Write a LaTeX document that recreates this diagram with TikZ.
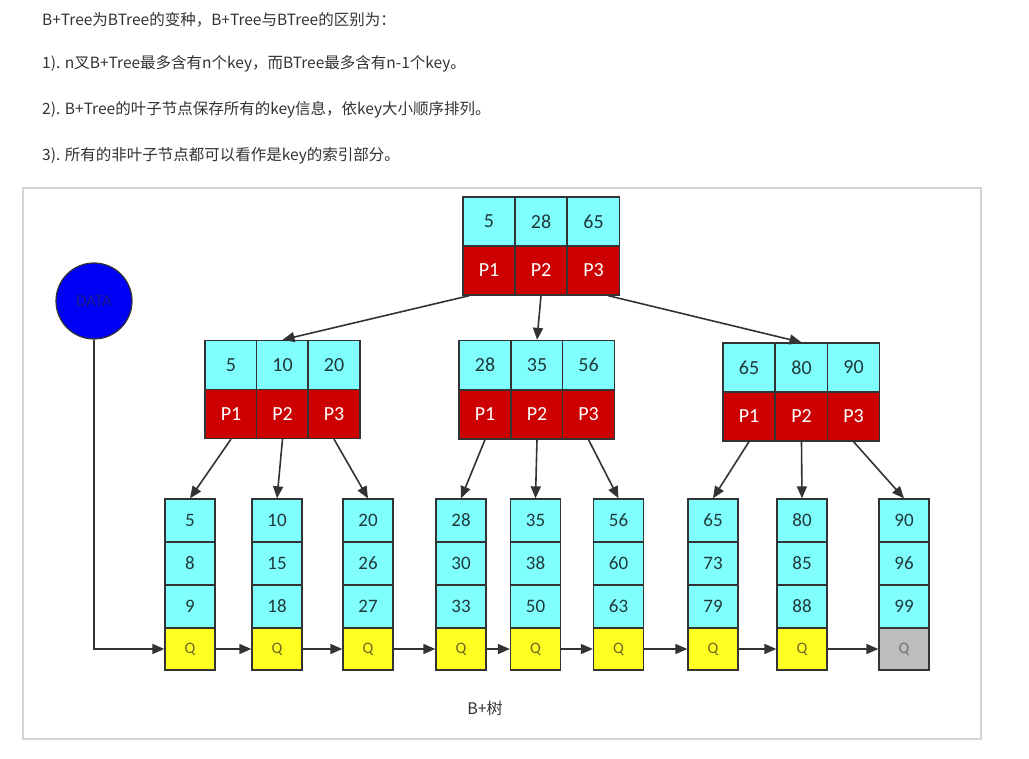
\documentclass[tikz,border=0pt]{standalone}
\usepackage{fontspec}
\usetikzlibrary{arrows.meta,calc}
\newfontfamily\carlito{Carlito}
\newfontfamily\cjk{Noto Sans CJK SC}
\definecolor{keycyan}{HTML}{80FFFF}
\definecolor{ptrred}{HTML}{CC0000}
\definecolor{qyellow}{HTML}{FFFF22}
\definecolor{qgray}{HTML}{BDBDBD}
\definecolor{edge}{HTML}{333333}
\definecolor{numtxt}{HTML}{1F3A3A}
\definecolor{bodytxt}{HTML}{333333}
\definecolor{framegray}{HTML}{D4D4D4}
\definecolor{datablue}{HTML}{0000F5}
\definecolor{datatxt}{HTML}{1A1A8A}
\tikzset{
  cellbase/.style={draw=edge, line width=1.3pt, inner sep=0pt, anchor=center},
  keycell/.style={cellbase, fill=keycyan, minimum width=52pt, minimum height=49pt,
    text=numtxt, font=\carlito\fontsize{20}{20}\selectfont},
  ptrcell/.style={cellbase, fill=ptrred, minimum width=52pt, minimum height=49pt,
    text=white, font=\carlito\fontsize{20}{20}\selectfont},
  leafcell/.style={cellbase, fill=keycyan, minimum width=50pt, minimum height=43pt,
    text=numtxt, font=\carlito\fontsize{19}{19}\selectfont},
  qcell/.style={cellbase, minimum width=50pt, minimum height=42pt,
    font=\carlito\fontsize{16}{16}\selectfont},
  arr/.style={draw=edge, line width=1.6pt, -{Triangle[length=12pt,width=10pt]}},
  bodyline/.style={anchor=west, inner sep=0pt, text=bodytxt, font=\cjk\fontsize{15.5}{15.5}\selectfont},
}
\begin{document}
\begin{tikzpicture}[x=1pt,y=-1pt]
\useasboundingbox (0,0) rectangle (1029,759);
\fill[white] (0,0) rectangle (1029,759);

% top text
\node[bodyline] (t1) at (42,20) {B+Tree为BTree的变种，B+Tree与BTree的区别为：};
\node[bodyline] (t2) at (42,64) {1). n叉B+Tree最多含有n个key，而BTree最多含有n-1个key。};
\node[bodyline] (t3) at (42,110) {2). B+Tree的叶子节点保存所有的key信息，依key大小顺序排列。};
\node[bodyline] (t4) at (42,156) {3). 所有的非叶子节点都可以看作是key的索引部分。};

% frame
\draw[framegray, line width=1.5pt] (23,188) rectangle (981,739);

% root
\node[keycell] (tk1) at (489,221.5) {5};
\node[keycell] (tk2) at (541,221.5) {28};
\node[keycell] (tk3) at (593.5,221.5) {65};
\node[ptrcell] (tp1) at (489,270.5) {P1};
\node[ptrcell] (tp2) at (541,270.5) {P2};
\node[ptrcell] (tp3) at (593.5,270.5) {P3};

% left internal
\node[keycell] (lk1) at (231,365) {5};
\node[keycell] (lk2) at (282.5,365) {10};
\node[keycell] (lk3) at (334,365) {20};
\node[ptrcell] (lp1) at (231,414) {P1};
\node[ptrcell] (lp2) at (282.5,414) {P2};
\node[ptrcell] (lp3) at (334,414) {P3};

% middle internal
\node[keycell] (mk1) at (485,365) {28};
\node[keycell] (mk2) at (537,365) {35};
\node[keycell] (mk3) at (588.5,365) {56};
\node[ptrcell] (mp1) at (485,414.5) {P1};
\node[ptrcell] (mp2) at (537,414.5) {P2};
\node[ptrcell] (mp3) at (588.5,414.5) {P3};

% right internal
\node[keycell] (rk1) at (749,367.5) {65};
\node[keycell] (rk2) at (801.5,367.5) {80};
\node[keycell] (rk3) at (853.5,367.5) {90};
\node[ptrcell] (rp1) at (749,416.5) {P1};
\node[ptrcell] (rp2) at (801.5,416.5) {P2};
\node[ptrcell] (rp3) at (853.5,416.5) {P3};

% leaves
\foreach \x/\a/\b/\c/\qc/\qt [count=\i] in {
  190/5/8/9/qyellow/olive!70!black,
  277/10/15/18/qyellow/olive!70!black,
  368/20/26/27/qyellow/olive!70!black,
  461/28/30/33/qyellow/olive!70!black,
  535.5/35/38/50/qyellow/olive!70!black,
  618.5/56/60/63/qyellow/olive!70!black,
  713/65/73/79/qyellow/olive!70!black,
  802/80/85/88/qyellow/olive!70!black,
  904/90/96/99/qgray/black!55}{
  \node[leafcell] (L\i a) at (\x,520.5) {\a};
  \node[leafcell] (L\i b) at (\x,563.5) {\b};
  \node[leafcell] (L\i c) at (\x,606.5) {\c};
  \node[qcell, fill=\qc, text=\qt] (Q\i) at (\x,649) {Q};
}

% DATA
\node[circle, draw=edge, line width=1.2pt, fill=datablue, minimum size=76pt, inner sep=0pt,
  text=datatxt, font=\carlito\fontsize{17}{17}\selectfont] (data) at (94,301) {DATA};
\draw[arr] (data.south) |- (Q1.west);

% root -> internal
\draw[arr] ([xshift=7pt]tp1.south west) -- (lk2.north);
\draw[arr] (tp2.south) -- (mk2.north);
\draw[arr] ([xshift=-12pt]tp3.south east) -- (rk2.north);

% internal -> leaves
\draw[arr] (lp1.south) -- (L1a.north);
\draw[arr] (lp2.south) -- (L2a.north);
\draw[arr] (lp3.south) -- (L3a.north);
\draw[arr] (mp1.south) -- (L4a.north);
\draw[arr] (mp2.south) -- (L5a.north);
\draw[arr] (mp3.south) -- (L6a.north);
\draw[arr] (rp1.south) -- (L7a.north);
\draw[arr] (rp2.south) -- (L8a.north);
\draw[arr] (rp3.south) -- (L9a.north);

% leaf chain
\foreach \i [evaluate=\i as \j using int(\i+1)] in {1,...,8}{
  \draw[arr] (Q\i.east) -- (Q\j.west);
}

% caption
\node[text=bodytxt, font=\cjk\fontsize{16}{16}\selectfont] (cap) at (485,708) {B+树};
\end{tikzpicture}
\end{document}
